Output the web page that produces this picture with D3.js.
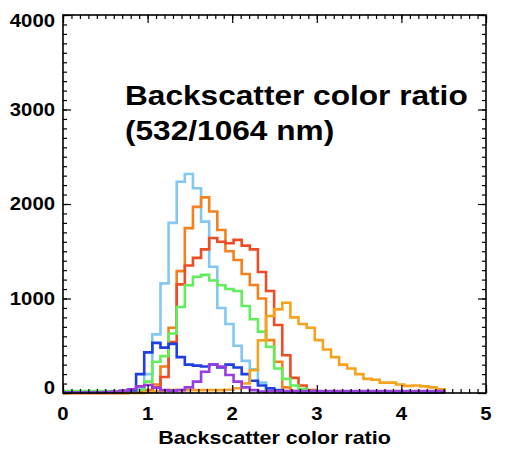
<!DOCTYPE html>
<html>
<head>
<meta charset="utf-8">
<script src="https://cdn.jsdelivr.net/npm/d3@7"></script>
<style>
  html, body { margin: 0; padding: 0; background: #fff; }
  svg { display: block; }
  text { font-family: "Liberation Sans", Arial, sans-serif; font-weight: bold; fill: #000; }
</style>
</head>
<body>
<svg id="chart" width="508" height="454"></svg>
<script>
// Histogram of backscatter colour ratio (532/1064 nm), one step line per aerosol class.
const binStart = 0;
const binWidth = 0.096;

const xTicks = [0, 1, 2, 3, 4, 5];
const yTicks = [0, 1000, 2000, 3000, 4000];

const titleLines = ["Backscatter color ratio", "(532/1064 nm)"];
const xTitle = "Backscatter color ratio";

// Counts per bin (47 bins) for each series.
const lightBlue = [15,15,15,15,15,15,15,15,20,50,200,620,1160,1800,2236,2317,2166,1813,1336,900,730,500,340,250,110,40,15,5,5,5,5,5,5,5,5,5,5,5,5,5,5,5,5,5,5,5,5];
const orange    = [0,0,0,0,0,0,0,0,5,15,30,90,280,690,1290,1745,1970,2070,1920,1725,1500,1407,1260,1143,1000,560,330,60,20,5,5,5,5,5,5,5,5,5,5,5,5,5,5,5,5,5,5];
const red       = [0,0,0,0,0,0,0,0,5,10,20,60,170,540,1150,1350,1430,1520,1640,1600,1585,1620,1560,1520,1280,1080,720,400,160,80,30,10,3,3,3,3,3,3,3,3,3,3,3,3,3,3,3];
const green     = [20,20,20,20,20,20,20,20,25,30,120,330,390,630,910,1140,1230,1250,1190,1140,1100,1080,920,780,650,490,260,150,80,45,20,10,5,5,5,5,5,5,5,5,5,5,5,5,5,5,5];
const gold      = [0,0,0,0,0,0,0,0,0,0,10,20,25,30,30,30,30,30,30,30,35,50,100,240,557,815,885,955,800,730,690,560,460,380,300,260,200,150,140,110,110,90,75,80,70,60,40];
const blue      = [5,5,5,5,5,5,5,5,20,200,430,530,480,520,380,300,290,280,300,270,300,270,200,130,80,50,30,15,10,5,5,5,5,5,5,5,5,5,5,5,5,5,5,5,5,5,5];
const purple    = [5,5,5,5,5,10,15,25,40,70,85,55,30,25,30,60,120,225,300,280,190,120,60,30,15,20,20,20,20,20,20,20,20,20,20,20,20,20,20,20,20,20,20,20,20,20,20];

const series = [
  { name: "lightBlue", values: lightBlue, color: "#82c8f2" },
  { name: "orange",    values: orange,    color: "#f5801f" },
  { name: "red",       values: red,       color: "#ef4b25" },
  { name: "green",     values: green,     color: "#62ee5c" },
  { name: "blue",      values: blue,      color: "#1d3fe4" },
  { name: "gold",      values: gold,      color: "#f6a21c" },
  { name: "purple",    values: purple,    color: "#9b3ce2" }
];

const svg = d3.select("#chart");
const plot = { left: 63, right: 486, top: 15, bottom: 393 };

const x = d3.scaleLinear().domain([0, 5]).range([plot.left, plot.right]);
const y = d3.scaleLinear().domain([0, 4000]).range([plot.bottom, plot.top]);

// Step lines
const line = d3.line().x(d => x(d[0])).y(d => y(d[1])).curve(d3.curveStepAfter);
series.forEach(s => {
  const pts = s.values.map((v, i) => [binStart + i * binWidth, v]);
  const end = binStart + s.values.length * binWidth;
  pts.push([end, s.values[s.values.length - 1]]);
  pts.push([end, 0]);
  svg.append("path")
    .attr("d", line(pts))
    .attr("fill", "none")
    .attr("stroke", s.color)
    .attr("stroke-width", 2.6)
    .attr("stroke-linejoin", "miter");
});

// Axes: major and minor ticks pointing inward on all four sides
const minorX = d3.range(0, 5.0001, 0.1).map(v => +v.toFixed(1));
const minorY = d3.range(0, 4000.1, 100);

function drawAxis(axisFn, scale, ticks, size, transform) {
  svg.append("g")
    .attr("transform", transform)
    .call(axisFn(scale).tickValues(ticks).tickSize(size).tickFormat(""))
    .call(g => g.select(".domain").remove())
    .call(g => g.selectAll("line").attr("stroke", "#000").attr("stroke-width", 1.2));
}
drawAxis(d3.axisBottom, x, minorX, -4, `translate(0,${plot.bottom})`);
drawAxis(d3.axisBottom, x, xTicks, -8, `translate(0,${plot.bottom})`);
drawAxis(d3.axisTop, x, minorX, -4, `translate(0,${plot.top})`);
drawAxis(d3.axisTop, x, xTicks, -8, `translate(0,${plot.top})`);
drawAxis(d3.axisLeft, y, minorY, -4, `translate(${plot.left},0)`);
drawAxis(d3.axisLeft, y, yTicks, -8, `translate(${plot.left},0)`);
drawAxis(d3.axisRight, y, minorY, -4, `translate(${plot.right},0)`);
drawAxis(d3.axisRight, y, yTicks, -8, `translate(${plot.right},0)`);

svg.append("rect")
  .attr("x", plot.left).attr("y", plot.top)
  .attr("width", plot.right - plot.left).attr("height", plot.bottom - plot.top)
  .attr("fill", "none").attr("stroke", "#000").attr("stroke-width", 1.6);

// Text helper: bold text stretched horizontally
const stretch = 1.13;
function label(str, px, py, size, anchor) {
  svg.append("g")
    .attr("transform", `translate(${px},${py}) scale(${stretch},1)`)
    .append("text")
    .attr("text-anchor", anchor)
    .attr("font-size", size)
    .text(str);
}

yTicks.forEach(v => {
  const cy = Math.min(Math.max(y(v), 21), 388);
  label(d3.format("d")(v), 55, cy + 6.4, 18, "end");
});
xTicks.forEach(v => label(String(v), x(v), 419.7, 18, "middle"));

label(xTitle, (plot.left + plot.right) / 2, 443.5, 19, "middle");
label(titleLines[0], 125, 105, 28, "start");
label(titleLines[1], 125, 140, 28, "start");
</script>
</body>
</html>
